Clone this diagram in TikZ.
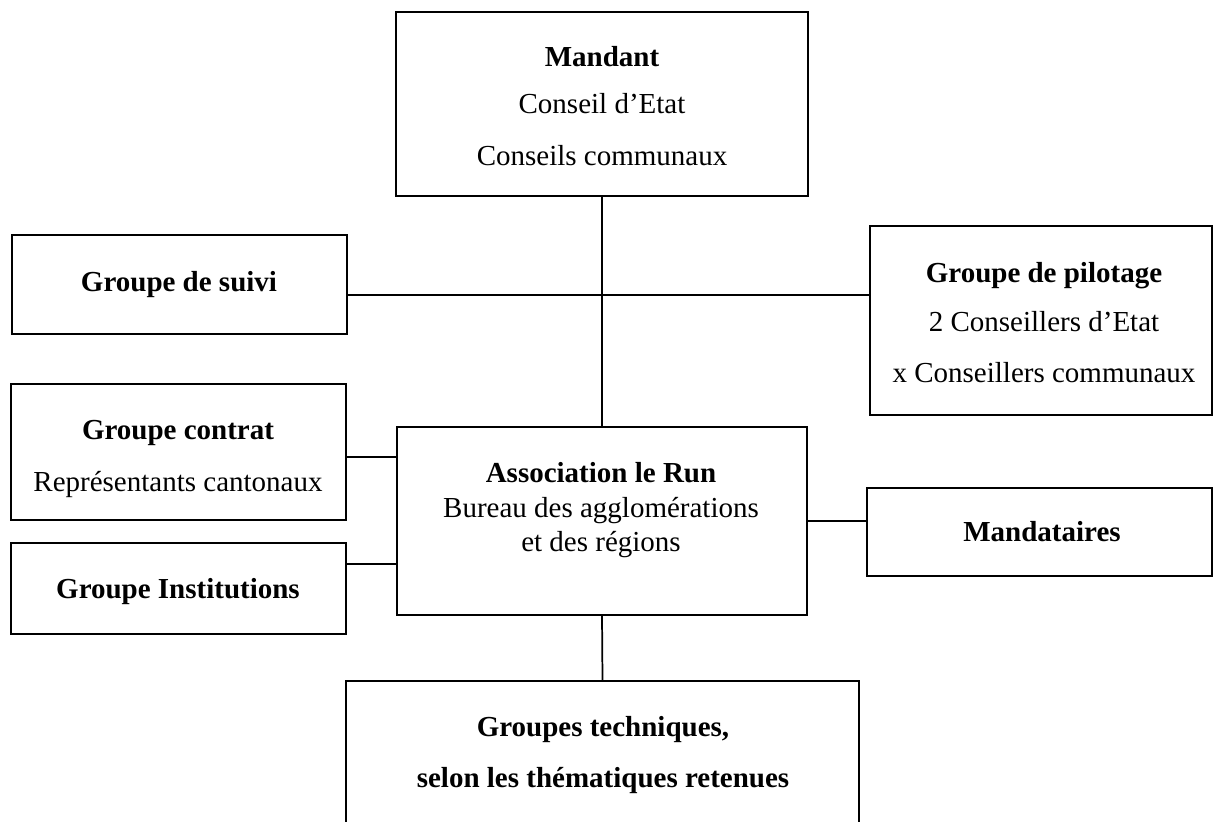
\documentclass[tikz,border=0pt]{standalone}
\usepackage{fontspec}
\setmainfont{Liberation Serif}
\begin{document}
\begin{tikzpicture}[x=0.75pt,y=-0.75pt,
  box/.style={draw=black,line width=1.3pt,rectangle,inner sep=0pt,fill=none},
  conn/.style={draw=black,line width=1.3pt},
  txt/.style={anchor=base,inner sep=0pt,font=\fontsize{21.75pt}{26pt}\selectfont},
  btxt/.style={txt,font=\fontsize{21.75pt}{26pt}\selectfont\bfseries}]
\clip (0,0) rectangle (1216,821);
\fill[white] (0,0) rectangle (1216,821);
% boxes
\node[box,minimum width=309pt,minimum height=138pt] (mandant) at (602,104) {};
\node[box,minimum width=251.25pt,minimum height=74.25pt] (suivi) at (179.5,284.5) {};
\node[box,minimum width=256.5pt,minimum height=141.75pt] (pilot) at (1041,320.5) {};
\node[box,minimum width=251.25pt,minimum height=102pt] (contrat) at (178.5,452) {};
\node[box,minimum width=251.25pt,minimum height=68.25pt] (instit) at (178.5,588.5) {};
\node[box,minimum width=307.5pt,minimum height=141pt] (assoc) at (602,521) {};
\node[box,minimum width=258.75pt,minimum height=66pt] (mandat) at (1039.5,532) {};
\node[box,minimum width=384.75pt,minimum height=164.25pt] (tech) at (602.5,790.5) {};
% junction coordinates
\coordinate (jh) at (603,295);
\coordinate (jc) at (370,457);
\coordinate (ji) at (370,564);
% connectors
\draw[conn] (mandant.south) -- (assoc.north);
\draw[conn] (suivi.east |- jh) -- (pilot.west |- jh);
\draw[conn] (contrat.east |- jc) -- (assoc.west |- jc);
\draw[conn] (instit.east |- ji) -- (assoc.west |- ji);
\draw[conn] (assoc.east) -- (mandat.west |- assoc.east);
\draw[conn] (assoc.south) -- (tech.north);
% texts
\node[btxt] (t1) at (602,66) {Mandant};
\node[txt] (t2) at (602,113) {Conseil d’Etat};
\node[txt] (t3) at (602,165) {Conseils communaux};
\node[btxt] (t4) at (179,291) {Groupe de suivi};
\node[btxt] (t5) at (1044,282) {Groupe de pilotage};
\node[txt] (t6) at (1044,331) {2 Conseillers d’Etat};
\node[txt] (t7) at (1044,382) {x Conseillers communaux};
\node[btxt] (t8) at (178,439) {Groupe contrat};
\node[txt] (t9) at (178,491) {Représentants cantonaux};
\node[btxt] (t10) at (178,598) {Groupe Institutions};
\node[btxt] (t11) at (601,482) {Association le Run};
\node[txt] (t12) at (601,517) {Bureau des agglomérations};
\node[txt] (t13) at (601,551) {et des régions};
\node[btxt] (t14) at (1042,541) {Mandataires};
\node[btxt] (t15) at (603,736) {Groupes techniques,};
\node[btxt] (t16) at (603,787) {selon les thématiques retenues};
\end{tikzpicture}
\end{document}
